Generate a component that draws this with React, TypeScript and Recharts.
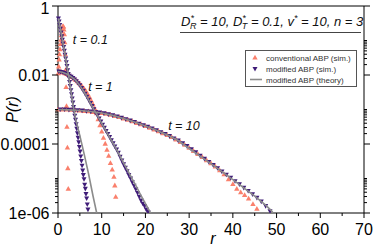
import React from 'react'
import { ScatterChart, Scatter, XAxis, YAxis, ReferenceDot } from 'recharts'

const FONT = 'Arial, "Liberation Sans", Helvetica, sans-serif'
const SALMON = '#fa806c'
const PURPLE = '#3f1c78'
const GRAY = '#8c8c8c'

// ---- t = 0.1 ----
const rConv01 = [0.05, 0.15, 0.25, 0.35, 0.45, 0.55, 0.65, 0.75, 0.85, 0.95, 1.05, 1.15, 1.25, 1.35, 1.45, 1.55, 1.65, 1.75, 1.85, 1.95, 2.05, 2.15, 2.25, 2.35]
const logConv01 = [-1.95, -1.75, -1.55, -1.4, -1.25, -1.1, -0.98, -0.85, -0.74, -0.66, -0.6, -0.58, -0.6, -0.68, -0.82, -1.05, -1.4, -1.85, -2.35, -2.9, -3.5, -4.1, -4.7, -5.3]

const rMod01 = [0.1, 0.25, 0.4, 0.55, 0.7, 0.85, 1.0, 1.15, 1.3, 1.45, 1.6, 1.75, 1.9, 2.05, 2.2, 2.35, 2.5, 2.65, 2.8, 2.95, 3.1, 3.25, 3.4, 3.55, 3.7, 3.85, 4.0, 4.15, 4.3, 4.45, 4.6, 4.75, 4.9, 5.05, 5.2, 5.35, 5.5, 5.65, 5.8, 5.95, 6.1, 6.25, 6.4, 6.55, 6.7, 6.85]
const logMod01 = [-0.36, -0.45, -0.55, -0.66, -0.77, -0.88, -0.98, -1.09, -1.19, -1.3, -1.41, -1.52, -1.63, -1.74, -1.86, -1.97, -2.08, -2.2, -2.32, -2.44, -2.56, -2.68, -2.8, -2.93, -3.06, -3.18, -3.3, -3.43, -3.56, -3.69, -3.82, -3.95, -4.09, -4.22, -4.36, -4.49, -4.63, -4.77, -4.9, -5.02, -5.18, -5.3, -5.45, -5.58, -5.75, -5.9]

const rTheory01 = [0.1, 0.5, 1, 1.5, 2, 2.5, 3, 3.5, 4, 5, 6, 7, 8, 8.85]
const logTheory01 = [-0.36, -0.62, -0.98, -1.33, -1.7, -2.08, -2.5, -2.92, -3.25, -3.76, -4.3, -4.87, -5.5, -6.0]

// ---- t = 1 ----
const rConv1 = [0.4, 0.8, 1.2, 1.6, 2.0, 2.4, 2.8, 3.2, 3.6, 4.0, 4.4, 4.8, 5.2, 5.6, 6.0, 6.4, 6.8, 7.2, 7.6, 8.0, 8.4, 8.8, 9.2, 9.6, 10.0, 10.4, 10.8, 11.2, 11.6, 12.0, 12.4, 12.8, 13.0, 13.2]
const logConv1 = [-1.9, -1.91, -1.93, -1.95, -1.97, -2.0, -2.03, -2.06, -2.1, -2.14, -2.18, -2.23, -2.28, -2.34, -2.4, -2.47, -2.55, -2.64, -2.74, -2.85, -2.97, -3.11, -3.28, -3.46, -3.64, -3.82, -3.99, -4.17, -4.34, -4.55, -4.74, -4.95, -5.2, -5.53]

const rMod1 = [0.2, 0.6, 1.0, 1.4, 1.8, 2.2, 2.6, 3.0, 3.4, 3.8, 4.2, 4.6, 5.0, 5.4, 5.8, 6.2, 6.6, 7.0, 7.4, 7.8, 8.2, 8.6, 9.0, 9.4, 9.8, 10.2, 10.6, 11.0, 11.4, 11.8, 12.2, 12.6, 13.0, 13.4, 13.8, 14.2, 14.6, 15.0, 15.4, 15.8, 16.2, 16.6, 17.0, 17.4, 17.8, 18.2, 18.6, 19.0, 19.4, 19.8, 20.2, 20.6]
const logMod1 = [-1.9, -1.91, -1.92, -1.94, -1.96, -1.99, -2.02, -2.05, -2.09, -2.13, -2.18, -2.24, -2.3, -2.38, -2.46, -2.54, -2.63, -2.72, -2.81, -2.9, -2.99, -3.08, -3.17, -3.26, -3.35, -3.44, -3.53, -3.62, -3.71, -3.8, -3.89, -3.98, -4.07, -4.16, -4.25, -4.37, -4.48, -4.59, -4.69, -4.79, -4.9, -5.0, -5.11, -5.21, -5.31, -5.42, -5.53, -5.64, -5.73, -5.8, -5.9, -5.97]

const rTheory1 = [0, 1, 2, 3, 4, 5, 6, 7, 8, 9, 10, 11, 12, 13, 14, 15, 16, 17, 18, 19, 20, 21, 21.3]
const logTheory1 = [-1.9, -1.92, -1.97, -2.05, -2.15, -2.3, -2.5, -2.72, -2.95, -3.17, -3.4, -3.62, -3.85, -4.07, -4.3, -4.55, -4.78, -5.02, -5.25, -5.5, -5.73, -5.95, -6.02]

// ---- t = 10 ----
const rConv10 = [0, 1, 2, 3, 4, 5, 6, 7, 8, 9, 10, 11, 12, 13, 14, 15, 16, 17, 18, 19, 20, 21, 22, 23, 24, 25, 26, 27, 28, 29, 30, 31, 32, 33, 34, 35, 36, 37, 38, 39, 40, 40.9, 41.8, 42.7, 43.6, 44.6, 45.5]
const logConv10 = [-3.0, -3.0, -3.0, -3.01, -3.02, -3.03, -3.04, -3.05, -3.07, -3.08, -3.1, -3.12, -3.15, -3.19, -3.22, -3.26, -3.3, -3.34, -3.39, -3.43, -3.48, -3.53, -3.58, -3.63, -3.69, -3.74, -3.8, -3.87, -3.94, -4.02, -4.11, -4.2, -4.29, -4.38, -4.47, -4.56, -4.65, -4.76, -4.88, -5.02, -5.16, -5.3, -5.4, -5.48, -5.58, -5.74, -5.88]

const rMod10 = [0.5, 1.5, 2.5, 3.5, 4.5, 5.5, 6.5, 7.5, 8.5, 9.5, 10.5, 11.5, 12.5, 13.5, 14.5, 15.5, 16.5, 17.5, 18.5, 19.5, 20.5, 21.5, 22.5, 23.5, 24.5, 25.5, 26.5, 27.5, 28.5, 29.5, 30.5, 31.5, 32.5, 33.5, 34.5, 35.5, 36.5, 37.5, 38.5, 39.5, 40.5, 41.5, 42.5, 43.5, 44.5, 45.5, 46.5, 47.5, 48.5]
const logMod10 = [-3.0, -3.0, -3.01, -3.01, -3.02, -3.03, -3.05, -3.06, -3.08, -3.09, -3.11, -3.14, -3.17, -3.2, -3.24, -3.28, -3.32, -3.36, -3.41, -3.46, -3.5, -3.55, -3.6, -3.66, -3.71, -3.77, -3.84, -3.9, -3.98, -4.06, -4.15, -4.24, -4.34, -4.43, -4.52, -4.61, -4.7, -4.8, -4.89, -4.98, -5.08, -5.17, -5.27, -5.36, -5.46, -5.56, -5.67, -5.8, -5.95]

const rTheory10 = [0, 2.5, 5, 7.5, 10, 12.5, 15, 17.5, 20, 22.5, 25, 27.5, 30, 32.5, 35, 37.5, 40, 42.5, 45, 47.5, 48.8, 49.2]
const logTheory10 = [-3.0, -3.01, -3.03, -3.06, -3.1, -3.17, -3.26, -3.36, -3.48, -3.6, -3.74, -3.9, -4.13, -4.35, -4.57, -4.8, -5.03, -5.27, -5.51, -5.77, -5.93, -6.0]

// axes
const xTicks = [0, 5, 10, 15, 20, 25, 30, 35, 40, 45, 50, 55, 60, 65, 70]
const yMajorTicks = [1, 0.01, 0.0001, 0.000001]
const yMajorLabels = ['1', '0.01', '0.0001', '1e-06']
const yMinorTicks = [
  0.1, 0.09, 0.08, 0.07, 0.06, 0.05, 0.04, 0.03, 0.02,
  0.001, 0.0009, 0.0008, 0.0007, 0.0006, 0.0005, 0.0004, 0.0003, 0.0002,
  0.00001, 0.000009, 0.000008, 0.000007, 0.000006, 0.000005, 0.000004, 0.000003, 0.000002,
]
const yTicks = [...yMajorTicks, ...yMinorTicks]

const toPoints = (rs: number[], logs: number[]) =>
  rs.map((r, i) => ({ r, p: Math.pow(10, logs[i]) }))

const conv01 = toPoints(rConv01, logConv01)
const mod01 = toPoints(rMod01, logMod01)
const theory01 = toPoints(rTheory01, logTheory01)
const conv1 = toPoints(rConv1, logConv1)
const mod1 = toPoints(rMod1, logMod1)
const theory1 = toPoints(rTheory1, logTheory1)
const conv10 = toPoints(rConv10, logConv10)
const mod10 = toPoints(rMod10, logMod10)
const theory10 = toPoints(rTheory10, logTheory10)

const UpTri = (props: any) => {
  const { cx, cy } = props
  if (cx == null || cy == null) return <g />
  return <path d={`M${cx},${cy - 2.8}L${cx + 2.7},${cy + 2}L${cx - 2.7},${cy + 2}Z`} fill={SALMON} />
}

const DownTri = (props: any) => {
  const { cx, cy } = props
  if (cx == null || cy == null) return <g />
  return <path d={`M${cx - 2.5},${cy - 2}L${cx + 2.5},${cy - 2}L${cx},${cy + 2.6}Z`} fill={PURPLE} />
}

const NoDot = () => <g />

const BottomTick = (props: any) => {
  const { x, y, payload } = props
  const major = payload.value % 10 === 0
  return (
    <g>
      <line x1={x} y1={y} x2={x} y2={y + (major ? 5 : 3)} stroke="#000" />
      {major && (
        <text x={x} y={y + 22} textAnchor="middle" fontSize={16} fontFamily={FONT} fill="#000">
          {payload.value}
        </text>
      )}
    </g>
  )
}

const TopTick = (props: any) => {
  const { x, y, payload } = props
  const major = payload.value % 10 === 0
  return <line x1={x} y1={y} x2={x} y2={y - (major ? 6 : 4)} stroke="#000" />
}

const LeftTick = (props: any) => {
  const { x, y, payload } = props
  const idx = yMajorTicks.indexOf(payload.value)
  const major = idx >= 0
  // keep the top label inside the picture
  const dy = idx === 0 ? 8 : 5.5
  return (
    <g>
      <line x1={x} y1={y} x2={x - (major ? 6 : 3)} y2={y} stroke="#000" />
      {major && (
        <text x={x - 8.5} y={y + dy} textAnchor="end" fontSize={16} fontFamily={FONT} fill="#000">
          {yMajorLabels[idx]}
        </text>
      )}
    </g>
  )
}

const RightTick = (props: any) => {
  const { x, y, payload } = props
  const major = yMajorTicks.indexOf(payload.value) >= 0
  return <line x1={x} y1={y} x2={x + (major ? 6 : 3)} y2={y} stroke="#000" />
}

const tLabel = (text: string) => (props: any) => {
  const vb = props.viewBox || {}
  return (
    <text x={vb.x} y={vb.y} fontSize={12.5} fontStyle="italic" fontFamily={FONT} fill="#111">
      {text}
    </text>
  )
}

export default function App() {
  return (
    <div style={{ position: 'absolute', left: 0, top: 0, width: 374, height: 247, background: '#fff' }}>
      <ScatterChart width={374} height={247} margin={{ top: 0, right: 0, bottom: 0, left: 0 }}>
        <XAxis
          xAxisId="b"
          type="number"
          dataKey="r"
          domain={[0, 70]}
          ticks={xTicks}
          interval={0}
          height={34}
          tickSize={0}
          tickMargin={0}
          tickLine={false}
          tick={<BottomTick />}
          axisLine={{ stroke: '#000' }}
          label={(p: any) => {
            const vb = p.viewBox
            return (
              <text x={vb.x + vb.width / 2 + 2} y={vb.y + 31} textAnchor="middle" fontSize={16} fontStyle="italic" fontFamily={FONT}>
                r
              </text>
            )
          }}
        />
        <XAxis
          xAxisId="t"
          orientation="top"
          type="number"
          dataKey="r"
          domain={[0, 70]}
          ticks={xTicks}
          interval={0}
          height={6}
          tickSize={0}
          tickMargin={0}
          tickLine={false}
          tick={<TopTick />}
          axisLine={{ stroke: '#000' }}
        />
        <YAxis
          yAxisId="l"
          type="number"
          dataKey="p"
          scale="log"
          domain={[0.000001, 1]}
          allowDataOverflow
          ticks={yTicks}
          interval={0}
          width={58}
          tickSize={0}
          tickMargin={0}
          tickLine={false}
          tick={<LeftTick />}
          axisLine={{ stroke: '#000' }}
          label={(p: any) => {
            const vb = p.viewBox
            const cx = vb.x + 12
            const cy = vb.y + vb.height / 2
            return (
              <text x={cx} y={cy} transform={`rotate(-90 ${cx} ${cy})`} textAnchor="middle" dominantBaseline="central" fontSize={16} fontStyle="italic" fontFamily={FONT}>
                P(r)
              </text>
            )
          }}
        />
        <YAxis
          yAxisId="r"
          orientation="right"
          type="number"
          dataKey="p"
          scale="log"
          domain={[0.000001, 1]}
          allowDataOverflow
          ticks={yTicks}
          interval={0}
          width={10}
          tickSize={0}
          tickMargin={0}
          tickLine={false}
          tick={<RightTick />}
          axisLine={{ stroke: '#000' }}
        />

        <Scatter xAxisId="b" yAxisId="l" data={conv01} shape={UpTri} isAnimationActive={false} />
        <Scatter xAxisId="b" yAxisId="l" data={conv1} shape={UpTri} isAnimationActive={false} />
        <Scatter xAxisId="b" yAxisId="l" data={conv10} shape={UpTri} isAnimationActive={false} />
        <Scatter xAxisId="b" yAxisId="l" data={mod01} shape={DownTri} isAnimationActive={false} />
        <Scatter xAxisId="b" yAxisId="l" data={mod1} shape={DownTri} isAnimationActive={false} />
        <Scatter xAxisId="b" yAxisId="l" data={mod10} shape={DownTri} isAnimationActive={false} />
        <Scatter xAxisId="b" yAxisId="l" data={theory01} shape={NoDot} line={{ stroke: GRAY, strokeWidth: 1.6 }} isAnimationActive={false} />
        <Scatter xAxisId="b" yAxisId="l" data={theory1} shape={NoDot} line={{ stroke: GRAY, strokeWidth: 1.6 }} isAnimationActive={false} />
        <Scatter xAxisId="b" yAxisId="l" data={theory10} shape={NoDot} line={{ stroke: GRAY, strokeWidth: 1.6 }} isAnimationActive={false} />

        <ReferenceDot xAxisId="b" yAxisId="l" x={3.4} y={0.079} r={0} fill="none" stroke="none" label={tLabel('t = 0.1')} />
        <ReferenceDot xAxisId="b" yAxisId="l" x={6.9} y={0.0035} r={0} fill="none" stroke="none" label={tLabel('t = 1')} />
        <ReferenceDot xAxisId="b" yAxisId="l" x={25.2} y={0.00026} r={0} fill="none" stroke="none" label={tLabel('t = 10')} />
      </ScatterChart>

      <svg width={374} height={247} style={{ position: 'absolute', left: 0, top: 0, pointerEvents: 'none' }}>
        {/* parameter annotation */}
        <text x={181} y={26} fontSize={13} fontStyle="italic" fontFamily={FONT} fill="#111">
          D
          <tspan dy={-5} fontSize={9}>*</tspan>
          <tspan dx={-4} dy={8} fontSize={9}>R</tspan>
          <tspan dy={-3}> = 10, D</tspan>
          <tspan dy={-5} fontSize={9}>*</tspan>
          <tspan dx={-4} dy={8} fontSize={9}>T</tspan>
          <tspan dy={-3}> = 0.1, v</tspan>
          <tspan dy={-5} fontSize={9}>*</tspan>
          <tspan dy={5}> = 10, n = 3</tspan>
        </text>
        <line x1={180} y1={32.5} x2={361} y2={32.5} stroke="#444" strokeWidth={1} />

        {/* legend */}
        <rect x={245.5} y={50.5} width={111} height={36} fill="#fff" stroke="#555" strokeWidth={1} />
        <path d="M255,54.7L257.7,59.5L252.3,59.5Z" fill={SALMON} />
        <text x={266} y={60.5} fontSize={8} fontFamily={FONT} fill="#333">conventional ABP (sim.)</text>
        <path d="M252.5,67L257.5,67L255,71.6Z" fill={PURPLE} />
        <text x={266} y={72} fontSize={8} fontFamily={FONT} fill="#333">modified ABP (sim.)</text>
        <line x1={250} y1={79.5} x2={262} y2={79.5} stroke={GRAY} strokeWidth={1.6} />
        <text x={266} y={83} fontSize={8} fontFamily={FONT} fill="#333">modified ABP (theory)</text>
      </svg>
    </div>
  )
}
